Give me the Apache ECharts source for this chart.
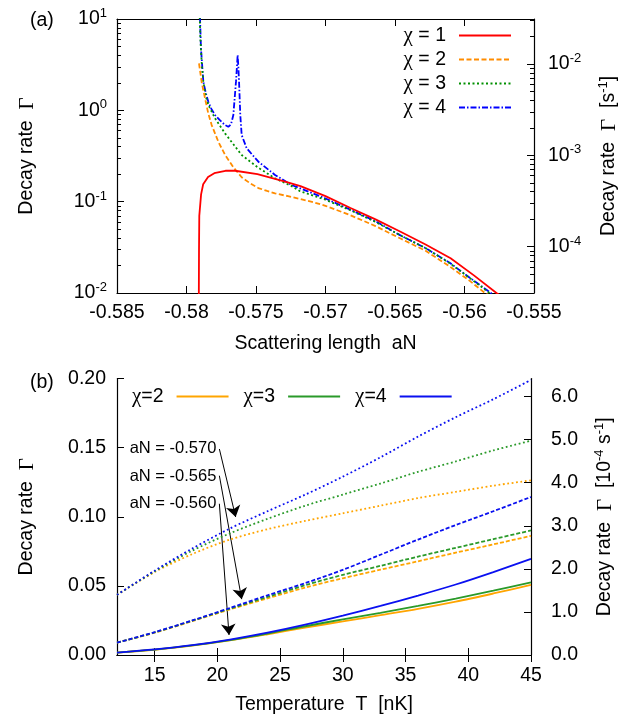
<!DOCTYPE html>
<html><head><meta charset="utf-8">
<script src="https://cdn.jsdelivr.net/npm/echarts@6/dist/echarts.min.js"></script>
<style>html,body{margin:0;padding:0;background:#fff}#c{width:639px;height:720px}</style>
</head><body><div id="c"></div>
<script>
// ---------- Panel (a): decay rate vs scattering length ----------
const aNTicks = [-0.585, -0.58, -0.575, -0.57, -0.565, -0.56, -0.555];
const gammaLeftTicks = [0.01, 0.1, 1, 10];
const gammaLeftMinor = [0.02,0.03,0.04,0.05,0.06,0.07,0.08,0.09,0.2,0.3,0.4,0.5,0.6,0.7,0.8,0.9,2,3,4,5,6,7,8,9];
const gammaRightTicks = [1e-4, 1e-3, 1e-2];
const gammaRightMinor = [4e-5,5e-5,6e-5,7e-5,8e-5,9e-5,2e-4,3e-4,4e-4,5e-4,6e-4,7e-4,8e-4,9e-4,2e-3,3e-3,4e-3,5e-3,6e-3,7e-3,8e-3,9e-3,2e-2,3e-2];
const rightRange = [3.11e-5, 3.11e-2];

const chi1 = [[-0.57912,0.005],[-0.57910,0.03],[-0.57908,0.07],[-0.57895,0.12],[-0.57880,0.155],[-0.57845,0.186],[-0.5780,0.205],[-0.5772,0.218],[-0.5765,0.218],[-0.5749,0.200],[-0.5729,0.166],[-0.5718,0.148],[-0.5700,0.115],[-0.5682,0.0853],[-0.5664,0.064],[-0.5646,0.0469],[-0.5628,0.034],[-0.5610,0.024],[-0.5593,0.0155],[-0.5577,0.0100],[-0.5570,0.0085]];
const chi2 = [[-0.57910,3.27],[-0.57890,2.0],[-0.57867,1.36],[-0.57845,0.95],[-0.57819,0.69],[-0.57770,0.45],[-0.57722,0.324],[-0.57660,0.235],[-0.57603,0.185],[-0.57540,0.158],[-0.57483,0.141],[-0.57420,0.131],[-0.57363,0.123],[-0.57270,0.115],[-0.57183,0.107],[-0.5709,0.099],[-0.5700,0.090],[-0.56824,0.0714],[-0.5664,0.054],[-0.56464,0.0397],[-0.5628,0.029],[-0.56104,0.0194],[-0.5596,0.0135],[-0.55853,0.0100],[-0.5580,0.009]];
const chi3 = [[-0.57905,10.5],[-0.57900,6],[-0.57890,3.2],[-0.57879,2.06],[-0.5786,1.4],[-0.57843,1.15],[-0.57795,0.818],[-0.57723,0.56],[-0.5766,0.42],[-0.57603,0.324],[-0.57483,0.235],[-0.57363,0.18],[-0.57243,0.148],[-0.57183,0.130],[-0.5700,0.105],[-0.56824,0.081],[-0.5664,0.060],[-0.56464,0.043],[-0.5628,0.031],[-0.56104,0.0211],[-0.5596,0.0145],[-0.55820,0.0100],[-0.5578,0.0092]];
const chi4 = [[-0.57903,10.5],[-0.57896,4.77],[-0.57879,2.06],[-0.57860,1.52],[-0.57843,1.24],[-0.57820,1.03],[-0.57795,0.889],[-0.57760,0.78],[-0.57723,0.69],[-0.57699,0.662],[-0.5768,0.70],[-0.57663,0.889],[-0.57644,2.06],[-0.57636,3.2],[-0.57632,4.04],[-0.57627,3.0],[-0.57622,2.06],[-0.57613,0.889],[-0.57603,0.537],[-0.57567,0.384],[-0.57483,0.274],[-0.57363,0.196],[-0.57243,0.152],[-0.57183,0.140],[-0.57004,0.109],[-0.56824,0.082],[-0.5664,0.061],[-0.56464,0.043],[-0.5628,0.031],[-0.56104,0.0213],[-0.5596,0.0146],[-0.5581,0.0100],[-0.5578,0.0092]];

// ---------- Panel (b): decay rate vs temperature ----------
const tempT = [12, 15, 18, 21, 24, 27, 30, 33, 36, 39, 42, 45];
const tTicks = [15, 20, 25, 30, 35, 40, 45];
const rightBTicks = [0, 1, 2, 3, 4, 5, 6];
// aN = -0.570 (dotted)
const d570_chi2 = [0.0435,0.060,0.073,0.0835,0.091,0.097,0.1025,0.108,0.1135,0.118,0.1225,0.1263];
const d570_chi3 = [0.0435,0.0605,0.0755,0.088,0.0985,0.108,0.116,0.124,0.1325,0.140,0.148,0.155];
const d570_chi4 = [0.0435,0.061,0.077,0.0915,0.104,0.116,0.129,0.143,0.158,0.172,0.185,0.199];
// aN = -0.565 (dashed)
const d565_chi2 = [0.0089,0.0161,0.0245,0.033,0.041,0.0488,0.0555,0.0617,0.0678,0.074,0.080,0.0862];
const d565_chi3 = [0.0089,0.0163,0.0248,0.0335,0.042,0.0505,0.058,0.0645,0.0712,0.0775,0.0838,0.0901];
const d565_chi4 = [0.0089,0.0165,0.025,0.034,0.0432,0.052,0.0616,0.0725,0.0835,0.094,0.104,0.1143];
// aN = -0.560 (solid)
const d560_chi2 = [0.0017,0.0038,0.0068,0.0105,0.015,0.0198,0.0243,0.0288,0.0334,0.0386,0.0445,0.0507];
const d560_chi3 = [0.0017,0.0039,0.0069,0.0108,0.0155,0.0208,0.0258,0.0305,0.0355,0.0408,0.0465,0.0525];
const d560_chi4 = [0.0017,0.0040,0.0071,0.0112,0.0162,0.022,0.0285,0.0355,0.043,0.051,0.060,0.0695];

const annotLabels = ['aN = -0.570', 'aN = -0.565', 'aN = -0.560'];
const annotT = [19.92, 19.92, 19.92];
const annotG = [0.1493, 0.1290, 0.1094];
const arrowFrom = [[20.16, 0.149], [20.16, 0.1297], [20.16, 0.1094]];
const arrowTo = [[21.46, 0.0998], [21.94, 0.0404], [20.93, 0.0145]];

const FONT = 'Liberation Sans';
const FS = 19.5;
const BLACK = '#000';
const supRich = {
  sup: { fontSize: 13, lineHeight: 13, verticalAlign: 'top', fontFamily: FONT, color: BLACK },
  g: { fontFamily: 'Liberation Serif', fontSize: 21, lineHeight: 24, color: BLACK },
  n: { fontFamily: FONT, fontSize: FS, lineHeight: 24, color: BLACK }
};
function pow10Label(v) {
  const e = Math.round(Math.log10(v));
  return '{n|10}{sup|' + e + '}';
}
const frameLine = { show: true, lineStyle: { color: BLACK, width: 1.2 } };
function tickIn(len, vals) {
  const t = { show: true, inside: true, length: len, lineStyle: { color: BLACK, width: 1 } };
  if (vals) t.customValues = vals;
  return t;
}

const topColors = ['#ff0000', '#ff8c00', '#009000', '#0000ff'];
const topTypes = ['solid', [5, 2.5], [2, 2.5], [6, 2, 1.5, 2]];
const topData = [chi1, chi2, chi3, chi4];
const topNames = ['χ = 1', 'χ = 2', 'χ = 3', 'χ = 4'];

const bColors = ['#ffa500', '#2a9a2a', '#0a10f0'];
const bNames = ['χ=2', 'χ=3', 'χ=4'];
const bGroups = [
  { sets: [d570_chi2, d570_chi3, d570_chi4], type: [1.8, 2.6], tag: ' (aN=-0.570)' },
  { sets: [d565_chi2, d565_chi3, d565_chi4], type: [4, 2], tag: ' (aN=-0.565)' },
  { sets: [d560_chi2, d560_chi3, d560_chi4], type: 'solid', tag: '' }
];

const series = [];
topData.forEach((d, i) => {
  series.push({
    name: topNames[i], type: 'line', xAxisIndex: 0, yAxisIndex: 0,
    data: d, showSymbol: false, symbol: 'none', clip: true,
    lineStyle: { color: topColors[i], width: 1.8, type: topTypes[i] },
    itemStyle: { color: topColors[i] }, z: 10 - i
  });
});
bGroups.forEach(g => {
  g.sets.forEach((vals, i) => {
    series.push({
      name: bNames[i] + g.tag, type: 'line', xAxisIndex: 2, yAxisIndex: 4,
      data: tempT.map((t, k) => [t, vals[k]]), showSymbol: false, symbol: 'none', smooth: 0.3,
      lineStyle: { color: bColors[i], width: 1.8, type: g.type },
      itemStyle: { color: bColors[i] }, z: 5 + i
    });
  });
});
series.push({
  name: 'annotations', type: 'scatter', xAxisIndex: 2, yAxisIndex: 4, symbolSize: 0,
  itemStyle: { opacity: 1, color: BLACK },
  data: annotLabels.map((s, i) => ({ value: [annotT[i], annotG[i]], label: { formatter: s } })),
  label: { show: true, position: 'left', distance: 0, fontFamily: FONT, fontSize: 16.5, color: BLACK, opacity: 1 },
  markLine: {
    silent: true, symbol: ['none', 'arrow'], symbolSize: 11, animation: false,
    lineStyle: { color: BLACK, width: 1, type: 'solid', opacity: 1 }, label: { show: false },
    data: arrowFrom.map((f, i) => [{ coord: f }, { coord: arrowTo[i] }])
  }, z: 20
});

const legendText = {
  fontFamily: FONT, fontSize: FS, color: BLACK, lineHeight: 20, padding: [0, 8, 0, 0],
  rich: { c: { fontFamily: 'Liberation Serif', fontSize: 21, color: BLACK } }
};
const legendFmt = name => name.replace('χ', '{c|χ}');
const noSymbol = { color: 'rgba(0,0,0,0)', borderWidth: 0, opacity: 0 };

const chart = echarts.init(document.getElementById('c'), null, { renderer: 'canvas' });
chart.setOption({
  animation: false,
  backgroundColor: '#fff',
  textStyle: { fontFamily: FONT },
  grid: [
    { left: 117, width: 417, top: 19, height: 274 },
    { left: 117, width: 414, top: 378.5, height: 276.5 }
  ],
  legend: [
    { data: topNames, orient: 'vertical', right: 122, top: 20, itemWidth: 52, itemHeight: 12, itemGap: 3,
      align: 'right', textStyle: legendText, formatter: legendFmt, selectedMode: false, itemStyle: noSymbol },
    { data: bNames, orient: 'horizontal', left: 127, top: 381, itemWidth: 52, itemHeight: 12, itemGap: 14,
      align: 'right', textStyle: legendText, formatter: legendFmt, selectedMode: false, itemStyle: noSymbol }
  ],
  xAxis: [
    { type: 'value', gridIndex: 0, position: 'bottom', min: -0.585, max: -0.555, interval: 0.005,
      axisLine: frameLine, axisTick: tickIn(7), splitLine: { show: false },
      axisLabel: { fontSize: FS, color: BLACK, margin: 10, formatter: v => String(Math.round(v * 1000) / 1000) },
      name: 'Scattering length  aN', nameLocation: 'middle', nameGap: 41,
      nameTextStyle: { fontSize: FS, color: BLACK } },
    { type: 'value', gridIndex: 0, position: 'top', min: -0.585, max: -0.555, interval: 0.005,
      axisLine: frameLine, axisTick: tickIn(7), axisLabel: { show: false }, splitLine: { show: false } },
    { type: 'value', gridIndex: 1, position: 'bottom', min: 12, max: 45,
      axisLine: frameLine, axisTick: tickIn(7, tTicks), splitLine: { show: false },
      axisLabel: { fontSize: FS, color: BLACK, margin: 11, customValues: tTicks },
      name: 'Temperature  T  [nK]', nameLocation: 'middle', nameGap: 40,
      nameTextStyle: { fontSize: FS, color: BLACK } },
    { type: 'value', gridIndex: 1, position: 'top', min: 12, max: 45,
      axisLine: frameLine, axisTick: tickIn(7, tTicks), axisLabel: { show: false }, splitLine: { show: false } }
  ],
  yAxis: [
    { type: 'log', logBase: 10, gridIndex: 0, position: 'left', min: 0.01, max: 10,
      axisLine: frameLine, axisTick: tickIn(7, gammaLeftTicks), splitLine: { show: false }, minorTick: { show: false },
      axisLabel: { color: BLACK, fontSize: FS, lineHeight: 24, margin: 10, customValues: gammaLeftTicks, formatter: pow10Label, rich: supRich },
      name: '{n|Decay rate  }{g|Γ}', nameLocation: 'middle', nameGap: 78, nameRotate: 90,
      nameTextStyle: { rich: supRich } },
    { type: 'log', logBase: 10, gridIndex: 0, position: 'left', min: 0.01, max: 10,
      axisLine: { show: false }, axisTick: tickIn(4, gammaLeftMinor), axisLabel: { show: false }, splitLine: { show: false } },
    { type: 'log', logBase: 10, gridIndex: 0, position: 'right', min: rightRange[0], max: rightRange[1],
      axisLine: frameLine, axisTick: tickIn(7, gammaRightTicks), splitLine: { show: false },
      axisLabel: { color: BLACK, fontSize: FS, lineHeight: 24, margin: 14, customValues: gammaRightTicks, formatter: pow10Label, rich: supRich },
      name: '{n|Decay rate  }{g|Γ}{n|  [s}{sup|-1}{n|]}', nameLocation: 'middle', nameGap: 63, nameRotate: 90,
      nameTextStyle: { rich: supRich } },
    { type: 'log', logBase: 10, gridIndex: 0, position: 'right', min: rightRange[0], max: rightRange[1],
      axisLine: { show: false }, axisTick: tickIn(4, gammaRightMinor), axisLabel: { show: false }, splitLine: { show: false } },
    { type: 'value', gridIndex: 1, position: 'left', min: 0, max: 0.2, interval: 0.05,
      axisLine: frameLine, axisTick: tickIn(7), splitLine: { show: false },
      axisLabel: { color: BLACK, fontSize: FS, margin: 11, formatter: v => v.toFixed(2) },
      name: '{n|Decay rate  }{g|Γ}', nameLocation: 'middle', nameGap: 78, nameRotate: 90,
      nameTextStyle: { rich: supRich } },
    { type: 'value', gridIndex: 1, position: 'right', min: 0, max: 6.42,
      axisLine: frameLine, axisTick: tickIn(7, rightBTicks), splitLine: { show: false },
      axisLabel: { color: BLACK, fontSize: FS, margin: 20, customValues: rightBTicks, formatter: v => v.toFixed(1) },
      name: '{n|Decay rate  }{g|Γ}{n|  [10}{sup|-4}{n| s}{sup|-1}{n|]}', nameLocation: 'middle', nameGap: 62, nameRotate: 90,
      nameTextStyle: { rich: supRich } }
  ],
  graphic: [
    { type: 'text', left: 30, top: 11, style: { text: '(a)', font: FS + 'px ' + FONT, fill: BLACK } },
    { type: 'text', left: 30, top: 373, style: { text: '(b)', font: FS + 'px ' + FONT, fill: BLACK } }
  ],
  series: series
});
</script></body></html>
